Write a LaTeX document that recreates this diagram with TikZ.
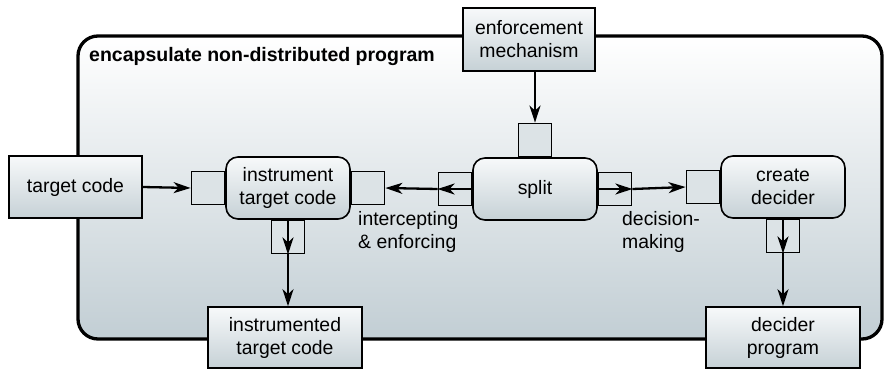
\documentclass[tikz,border=0pt]{standalone}
\usepackage{fontspec}
\setmainfont{Liberation Sans}
\usetikzlibrary{arrows.meta}
\definecolor{boxtop}{HTML}{F7F9FA}
\definecolor{boxbot}{HTML}{C6D1D6}
\definecolor{portfill}{HTML}{DCE3E6}
\definecolor{outerbot}{HTML}{C2CED4}
\begin{document}
\begin{tikzpicture}[x=1pt,y=-1pt,
  txt/.style={font=\fontsize{19.4}{23}\selectfont},
  sqbox/.style={draw, line width=1.6pt, top color=boxtop, bottom color=boxbot, inner sep=0pt, align=center, txt},
  rbox/.style={sqbox, rounded corners=12pt, minimum width=124pt, minimum height=62pt},
  port/.style={draw, line width=1.6pt, fill=portfill, minimum width=33pt, minimum height=33pt, inner sep=0pt},
  conn/.style={line width=2.3pt, -{Stealth[length=17pt,width=11pt,inset=5pt]}},
  lbl/.style={anchor=north west, align=left, inner sep=0pt, txt}]
\useasboundingbox (0,0) rectangle (885,369);
% container
\draw[line width=3.3pt, rounded corners=20pt, top color=white, bottom color=outerbot] (78,36) rectangle (882,339);
\node[anchor=base west, inner sep=0pt, font=\bfseries\fontsize{19.5}{23}\selectfont] (title) at (89,61) {encapsulate non-distributed program};
% boxes
\node[sqbox, minimum width=133pt, minimum height=62pt] (target) at (75.5,187) {target code};
\node[sqbox, minimum width=132pt, minimum height=63pt] (enf) at (529,39.5) {enforcement\\mechanism};
\node[rbox] (instr) at (288,188) {instrument\\target code};
\node[rbox] (split) at (535,189) {split};
\node[rbox] (create) at (783,187) {create\\decider};
\node[sqbox, minimum width=154pt, minimum height=61pt] (instrd) at (285,337.5) {instrumented\\target code};
\node[sqbox, minimum width=154pt, minimum height=61pt] (decider) at (783,337.5) {decider\\program};
% ports
\node[port, anchor=east] (iL) at (instr.west) {};
\node[port, anchor=west] (iR) at (instr.east) {};
\node[port, anchor=north] (iB) at (instr.south) {};
\node[port, anchor=east] (sL) at (split.west) {};
\node[port, anchor=west] (sR) at (split.east) {};
\node[port, anchor=south] (sT) at (split.north) {};
\node[port, anchor=east] (cL) at (create.west) {};
\node[port, anchor=north] (cB) at (create.south) {};
% connectors
\draw[conn] (target.east) -- (iL.west);
\draw[conn] (enf.south -| sT.north) -- (sT.north);
\draw[conn] (sL.east) -- (sL.west);
\draw[conn] (sL.west) -- (iR.east);
\draw[conn] (sR.west) -- (sR.east);
\draw[conn] (sR.east) -- (cL.west);
\draw[conn] (iB.north) -- (iB.south);
\draw[conn] (iB.south) -- (iB.south |- instrd.north);
\draw[conn] (cB.north) -- (cB.south);
\draw[conn] (cB.south) -- (cB.south |- decider.north);
% labels
\node[lbl] (lab1) at (358,211) {intercepting\\\& enforcing};
\node[lbl] (lab2) at (622,211) {decision-\\making};
\end{tikzpicture}
\end{document}
